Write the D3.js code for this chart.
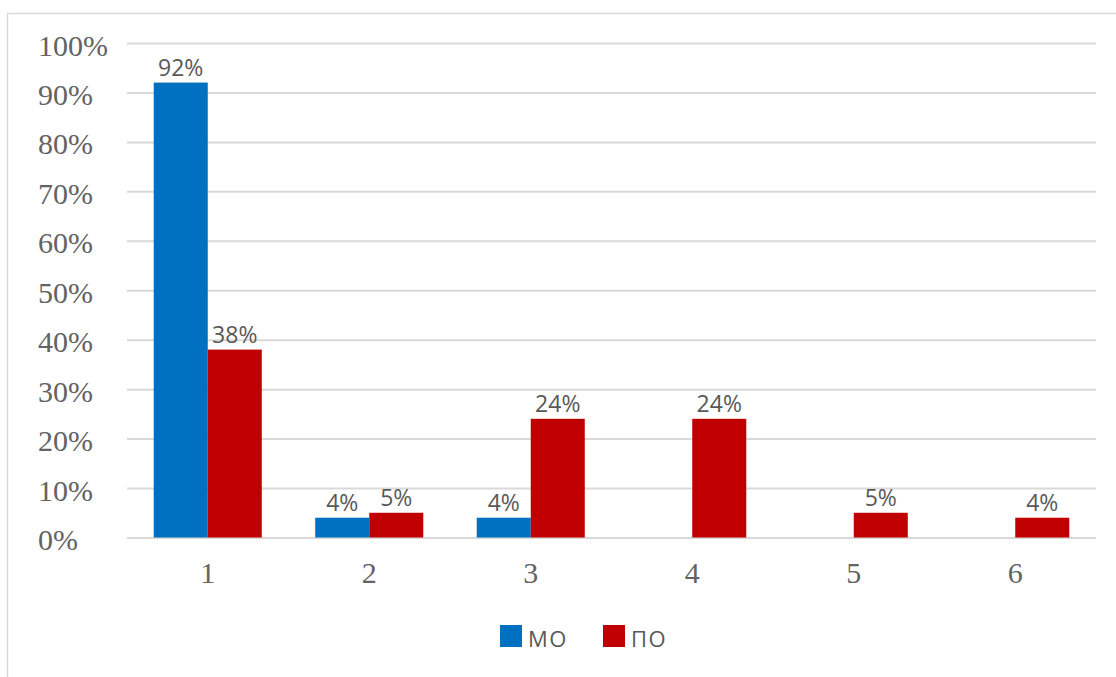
<!DOCTYPE html>
<html>
<head>
<meta charset="utf-8">
<script src="https://cdn.jsdelivr.net/npm/d3@7"></script>
<style>
  body { margin: 0; background: #fff; }
  svg { display: block; }
</style>
</head>
<body>
<div id="chart"></div>
<script>
// chart data
const categories = ["1", "2", "3", "4", "5", "6"];
const seriesNames = ["МО", "ПО"];
const moValues = [0.92, 0.04, 0.04, null, null, null];
const poValues = [0.38, 0.05, 0.24, 0.24, 0.05, 0.04];
const yTicks = [0, 0.1, 0.2, 0.3, 0.4, 0.5, 0.6, 0.7, 0.8, 0.9, 1.0];

const width = 1116;
const height = 677;
const plot = { left: 127, right: 1096, top: 43, bottom: 537.5 };
const colors = ["#0070C0", "#C00000"];
const textGray = "#595959";

var svg = d3.select("#chart")
  .append("svg")
  .attr("width", width)
  .attr("height", height);

// outer chart frame
svg.append("rect")
  .attr("x", 7.5)
  .attr("y", 13.5)
  .attr("width", width + 20)
  .attr("height", height + 20)
  .attr("fill", "none")
  .attr("stroke", "#d9d9d9")
  .attr("stroke-width", 1.5);

var x = d3.scaleBand()
  .domain(categories)
  .range([plot.left, plot.right])
  .paddingInner(0.331)
  .paddingOuter(0.1655);

var x1 = d3.scaleBand()
  .domain(seriesNames)
  .range([0, x.bandwidth()]);

var y = d3.scaleLinear()
  .domain([0, 1])
  .range([plot.bottom, plot.top]);

// gridlines + y labels
var yAxis = svg.append("g")
  .attr("transform", "translate(" + plot.left + ",0)")
  .call(d3.axisLeft(y)
    .tickValues(yTicks)
    .tickSize(-(plot.right - plot.left))
    .tickFormat(d3.format(".0%")));

yAxis.select(".domain").remove();
yAxis.selectAll("line")
  .attr("stroke", "#d9d9d9")
  .attr("stroke-width", 2);
yAxis.selectAll("text")
  .attr("x", 38 - plot.left)
  .attr("dy", null)
  .attr("y", 12)
  .attr("text-anchor", "start")
  .attr("fill", "#636363")
  .style("font-family", "'Liberation Serif', 'Times New Roman', serif")
  .style("font-size", "30px");

// x labels
var xAxis = svg.append("g")
  .attr("transform", "translate(0," + plot.bottom + ")")
  .call(d3.axisBottom(x).tickSize(0).tickPadding(0));

xAxis.select(".domain").remove();
xAxis.selectAll("text")
  .attr("dy", null)
  .attr("y", 45)
  .attr("fill", "#636363")
  .style("font-family", "'Liberation Serif', 'Times New Roman', serif")
  .style("font-size", "30px");

// bars
var series = [moValues, poValues];
var rows = [];
categories.forEach(function(cat, i) {
  series.forEach(function(values, s) {
    if (values[i] != null) {
      rows.push({ cat: cat, name: seriesNames[s], value: values[i], s: s });
    }
  });
});

var bars = svg.append("g").attr("id", "bars");

bars.selectAll("rect")
  .data(rows)
  .enter()
  .append("rect")
  .attr("x", function(d) { return x(d.cat) + x1(d.name); })
  .attr("y", function(d) { return y(d.value); })
  .attr("width", x1.bandwidth())
  .attr("height", function(d) { return y(0) - y(d.value); })
  .attr("fill", function(d) { return colors[d.s]; });

// data labels
bars.selectAll("text")
  .data(rows)
  .enter()
  .append("text")
  .attr("x", function(d) { return x(d.cat) + x1(d.name) + x1.bandwidth() / 2; })
  .attr("y", function(d) { return y(d.value) - 7; })
  .attr("text-anchor", "middle")
  .attr("fill", textGray)
  .style("font-family", "'Open Sans', sans-serif")
  .style("font-size", "23px")
  .text(function(d) { return Math.round(d.value * 100) + "%"; });

// legend
var legend = svg.append("g").attr("id", "legend");
var legendX = [500, 603];

seriesNames.forEach(function(name, i) {
  legend.append("rect")
    .attr("x", legendX[i])
    .attr("y", 625)
    .attr("width", 22)
    .attr("height", 22)
    .attr("fill", colors[i]);

  legend.append("text")
    .attr("x", legendX[i] + 28)
    .attr("y", 647)
    .attr("fill", textGray)
    .style("font-family", "'Open Sans', sans-serif")
    .style("font-size", "22px")
    .style("letter-spacing", "1.5px")
    .text(name);
});
</script>
</body>
</html>
